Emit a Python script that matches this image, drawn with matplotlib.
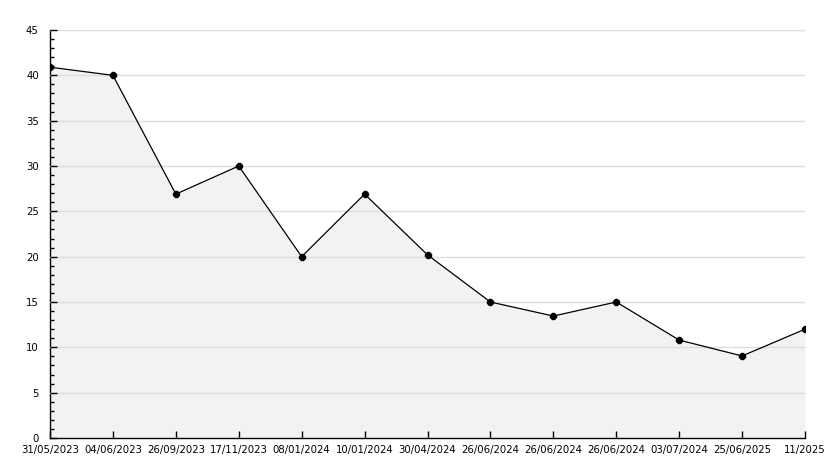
import matplotlib
matplotlib.use("Agg")
import matplotlib.pyplot as plt
from matplotlib.ticker import MultipleLocator

# dates and values
labels = ["31/05/2023", "04/06/2023", "26/09/2023", "17/11/2023", "08/01/2024",
          "10/01/2024", "30/04/2024", "26/06/2024", "26/06/2024", "26/06/2024",
          "03/07/2024", "25/06/2025", "11/2025"]
values = [40.9, 40.0, 26.9, 30.0, 20.0, 26.9, 20.2, 15.0, 13.45, 15.0, 10.8, 9.05, 12.0]

x = list(range(len(values)))

fig = plt.figure(figsize=(8.34, 4.68), dpi=100)
ax = fig.add_axes([50 / 834, 30 / 468, 755 / 834, 408 / 468])

ax.fill_between(x, values, 0, color="#f2f2f2", lw=0, zorder=0.5)
ax.plot(x, values, color="black", lw=0.9, marker="8", ms=4.5, zorder=3)

ax.set_xlim(0, len(values) - 1)
ax.set_ylim(0, 45)
ax.yaxis.set_major_locator(MultipleLocator(5))
ax.yaxis.set_minor_locator(MultipleLocator(1))
ax.set_xticks(x)
ax.set_xticklabels(labels)
ax.set_axisbelow(False)
ax.grid(axis="y", color="#dddddd", lw=1)

for s in ["top", "right"]:
    ax.spines[s].set_visible(False)
ax.spines["left"].set_linewidth(1)
ax.spines["bottom"].set_linewidth(1)

ax.tick_params(axis="y", which="major", direction="in", length=5, width=1,
               labelsize=7.3, pad=8)
ax.tick_params(axis="y", which="minor", direction="in", length=3, width=1)
ax.tick_params(axis="x", direction="in", length=5, width=1, labelsize=7.3, pad=5)

fig.savefig("out.png", dpi=100)
